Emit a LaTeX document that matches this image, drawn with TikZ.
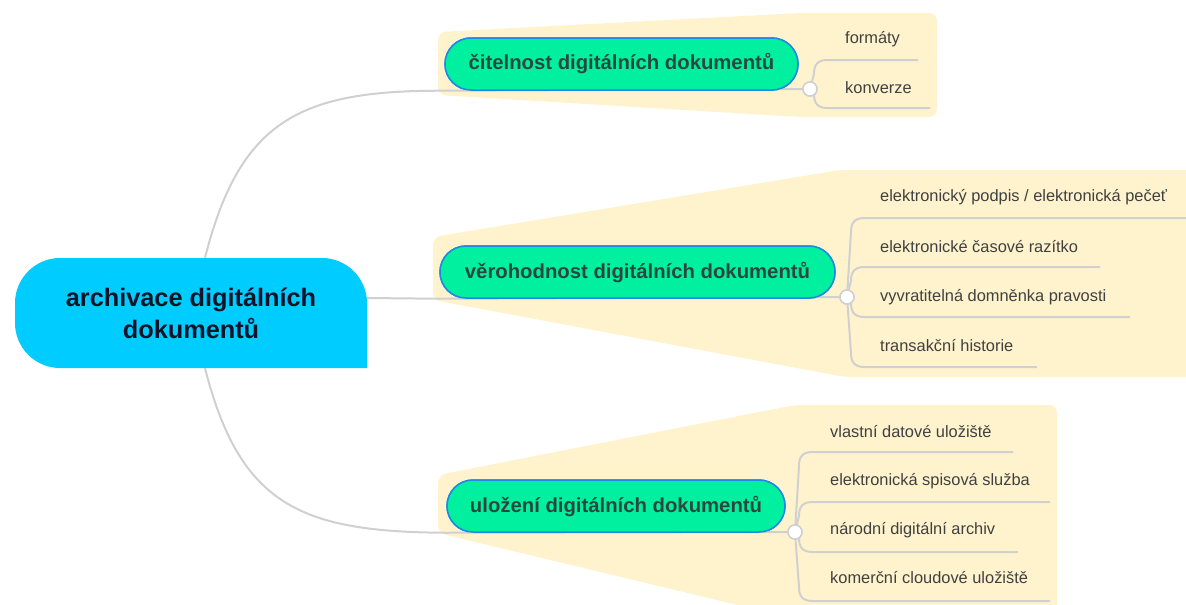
\documentclass[tikz,border=0pt]{standalone}
\usepackage{fontspec}
\setmainfont{Liberation Sans}
\usetikzlibrary{calc}
\definecolor{rootc}{RGB}{0,204,255}
\definecolor{topc}{RGB}{0,240,160}
\definecolor{topb}{RGB}{30,136,229}
\definecolor{band}{RGB}{255,243,205}
\definecolor{conn}{RGB}{208,208,208}
\definecolor{leaftext}{RGB}{64,64,64}
\definecolor{toptext}{RGB}{40,72,62}
\definecolor{roottext}{RGB}{16,20,40}
\begin{document}
\begin{tikzpicture}[x=1pt,y=-1pt,
  bandfill/.style={fill=band, rounded corners=8pt},
  connline/.style={draw=conn, line width=2pt},
  topicbox/.style={draw=topb, line width=1.5pt, fill=topc, rounded corners=26pt,
    minimum height=52pt, inner sep=0pt, text=toptext,
    font=\fontsize{20.3}{24}\selectfont\bfseries},
  hub/.style={circle, draw=conn, line width=1.5pt, fill=white, minimum size=14pt, inner sep=0pt},
  leaf/.style={anchor=west, inner sep=0pt, text=leaftext, font=\fontsize{16.4}{19}\selectfont},
  roottxt/.style={minimum width=352pt, minimum height=110pt, inner sep=0pt, align=center,
    text=roottext, font=\fontsize{25.3}{32}\selectfont\bfseries}
]
\useasboundingbox (0,0) rectangle (1186,605);
\clip (0,0) rectangle (1186,605);
\fill[white] (0,0) rectangle (1186,605);

% yellow bands
\fill[bandfill] (438,32) -- (800,13) -- (937,13) -- (937,117) -- (800,117) -- (438,95) -- cycle;
\fill[bandfill] (433,237) -- (840,170) -- (1200,170) -- (1200,377) -- (845,377) -- (433,300) -- cycle;
\fill[bandfill] (438,475) -- (795,405) -- (1057,405) -- (1057,620) -- (800,620) -- (438,533) -- cycle;

% nodes (placement)
\node[roottxt] (root) at (191,313) {archivace digitálních\\dokumentů};
\node[topicbox, minimum width=353pt] (t1) at (621.5,64) {čitelnost digitálních dokumentů};
\node[topicbox, minimum width=395pt] (t2) at (637.5,272) {věrohodnost digitálních dokumentů};
\node[topicbox, minimum width=338pt] (t3) at (616,506) {uložení digitálních dokumentů};
\node[hub] (c1) at (810,89) {};
\node[hub] (c2) at (847,297) {};
\node[hub] (c3) at (795,532) {};

\node[leaf] (l11) at (845,39) {formáty};
\node[leaf] (l12) at (845,88) {konverze};
\node[leaf] (l21) at (880,197) {elektronický podpis / elektronická pečeť};
\node[leaf] (l22) at (880,247) {elektronické časové razítko};
\node[leaf] (l23) at (880,297) {vyvratitelná domněnka pravosti};
\node[leaf] (l24) at (880,346) {transakční historie};
\node[leaf] (l31) at (830,432) {vlastní datové uložiště};
\node[leaf] (l32) at (830,481) {elektronická spisová služba};
\node[leaf] (l33) at (830,530) {národní digitální archiv};
\node[leaf] (l34) at (830,578) {komerční cloudové uložiště};

\coordinate (e11) at (918,60);
\coordinate (e12) at (930,108);
\coordinate (e21) at (1195,218);
\coordinate (e22) at (1100,267);
\coordinate (e23) at (1130,317);
\coordinate (e24) at (1037,367);
\coordinate (e31) at (1013,452);
\coordinate (e32) at (1050,502);
\coordinate (e33) at (1018,552);
\coordinate (e34) at (1050,601);

% main connectors
\draw[connline] ($(root.north)+(14,0)$) .. controls (240,120) and (300,90) .. (t1.south west) -- (c1.center);
\draw[connline] ($(root.east)+(0,-15)$) -- (t2.south west) -- (c2.center);
\draw[connline] ($(root.south)+(14,0)$) .. controls (240,505) and (300,532) .. (t3.south west) -- (c3.center);

% leaf branches
\draw[connline] (c1.center) -- (814,74) .. controls (814,64) and (818,60) .. (828,60) -- (e11);
\draw[connline] (c1.center) -- (814,94) .. controls (814,104) and (818,108) .. (828,108) -- (e12);

\draw[connline] (c2.center) -- (851,232) .. controls (851,222) and (855,218) .. (865,218) -- (e21);
\draw[connline] (c2.center) -- (851,281) .. controls (851,271) and (855,267) .. (865,267) -- (e22);
\draw[connline] (c2.center) -- (851,303) .. controls (851,313) and (855,317) .. (865,317) -- (e23);
\draw[connline] (c2.center) -- (851,353) .. controls (851,363) and (855,367) .. (865,367) -- (e24);

\draw[connline] (c3.center) -- (799,466) .. controls (799,456) and (803,452) .. (813,452) -- (e31);
\draw[connline] (c3.center) -- (799,516) .. controls (799,506) and (803,502) .. (813,502) -- (e32);
\draw[connline] (c3.center) -- (799,538) .. controls (799,548) and (803,552) .. (813,552) -- (e33);
\draw[connline] (c3.center) -- (799,587) .. controls (799,597) and (803,601) .. (813,601) -- (e34);

% root shape
\fill[rootc] (60,258) -- (322,258) .. controls (346.75,258) and (367,278.25) .. (367,303)
  -- (367,368) -- (60,368) .. controls (35.25,368) and (15,347.75) .. (15,323)
  -- (15,303) .. controls (15,278.25) and (35.25,258) .. (60,258) -- cycle;
\node[roottxt] at (root.center) {archivace digitálních\\dokumentů};

% redraw topics and hubs on top
\node[topicbox, minimum width=353pt] at (t1.center) {čitelnost digitálních dokumentů};
\node[topicbox, minimum width=395pt] at (t2.center) {věrohodnost digitálních dokumentů};
\node[topicbox, minimum width=338pt] at (t3.center) {uložení digitálních dokumentů};
\node[hub] at (c1.center) {};
\node[hub] at (c2.center) {};
\node[hub] at (c3.center) {};
\end{tikzpicture}
\end{document}
